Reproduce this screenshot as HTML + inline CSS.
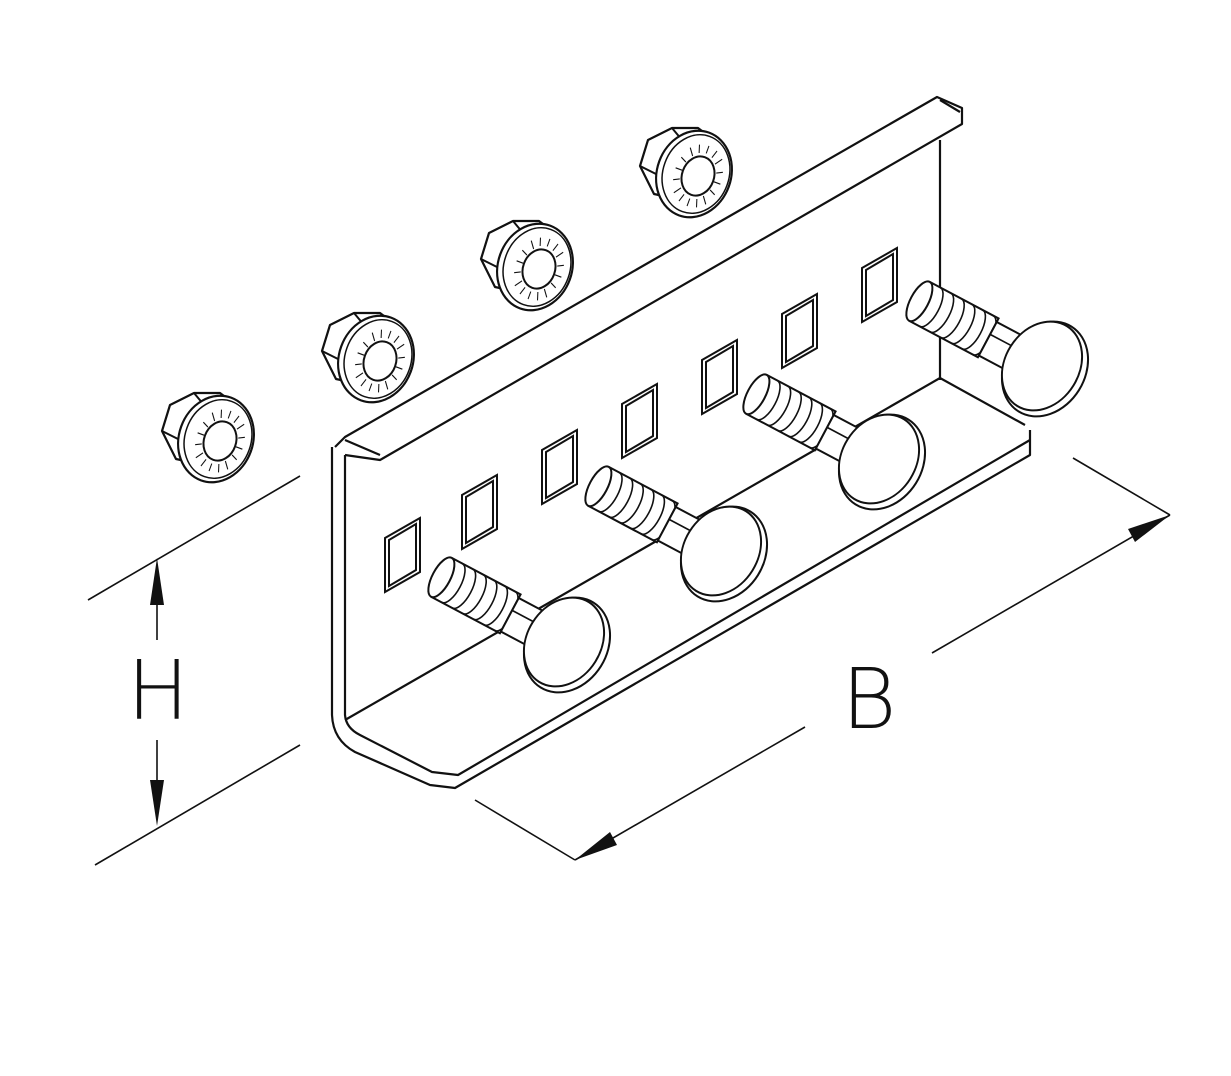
<!DOCTYPE html>
<html><head><meta charset="utf-8"><style>html,body{margin:0;padding:0;background:#fff}svg{display:block}
.lbl{font-family:"DejaVu Sans ExtraLight","DejaVu Sans","Liberation Sans",sans-serif;font-weight:200;fill:#111}</style></head>
<body>
<svg width="1231" height="1076" viewBox="0 0 1231 1076" xmlns="http://www.w3.org/2000/svg">
<defs>
<g id="nut" stroke="#111" fill="#fff">
  <path d="M-46,-2 L-38,-28 L-14,-40 L12,-40 L28,-28 L32,-6 L22,22 L-4,32 L-32,26 Z" stroke-width="2.2" stroke-linejoin="round"/>
  <path d="M-46,-2 L-30,6 M-14,-40 L-4,-28" fill="none" stroke-width="2"/>
  <ellipse cx="8" cy="6" rx="37" ry="44" transform="rotate(20 8 6)" stroke-width="2.2"/>
  <ellipse cx="10" cy="6" rx="33" ry="40" transform="rotate(20 10 6)" stroke-width="1.5" fill="none"/>
  <ellipse cx="12" cy="8" rx="16" ry="20" transform="rotate(20 12 8)" stroke-width="2"/>
  <g stroke-width="1.2" transform="translate(12 8) rotate(20) scale(0.85 1)">
    <line x1="0" y1="-24" x2="0" y2="-32"/><line x1="0" y1="24" x2="0" y2="32"/>
    <line x1="-20" y1="0" x2="-28" y2="0"/><line x1="20" y1="0" x2="28" y2="0"/>
    <line x1="14" y1="17" x2="20" y2="24"/><line x1="-14" y1="17" x2="-20" y2="24"/>
    <line x1="14" y1="-17" x2="20" y2="-24"/><line x1="-14" y1="-17" x2="-20" y2="-24"/>
    <line x1="8" y1="-22" x2="11" y2="-30"/><line x1="-8" y1="22" x2="-11" y2="30"/>
    <line x1="19" y1="9" x2="26" y2="12"/><line x1="-19" y1="-9" x2="-26" y2="-12"/>
    <line x1="-8" y1="-22" x2="-11" y2="-30"/><line x1="8" y1="22" x2="11" y2="30"/>
    <line x1="19" y1="-9" x2="26" y2="-12"/><line x1="-19" y1="9" x2="-26" y2="12"/>
  </g>
</g>
<g id="bolt" stroke="#111" fill="#fff" stroke-width="2">
  <g transform="rotate(28)">
    <path d="M-140,-22 L-62,-22 L-62,22 L-140,22" />
    <ellipse cx="-140" cy="0" rx="9" ry="22"/>
    <path d="M-128,-22 a9,22 0 0 1 0,44 M-116,-22 a9,22 0 0 1 0,44 M-104,-22 a9,22 0 0 1 0,44 M-92,-22 a9,22 0 0 1 0,44 M-80,-22 a9,22 0 0 1 0,44 M-68,-22 a9,22 0 0 1 0,44" fill="none" stroke-width="1.6"/>
    <path d="M-62,-18 L-30,-18 L-30,20 L-62,20 Z"/>
    <line x1="-62" y1="-4" x2="-30" y2="-4" stroke-width="1.6"/>
  </g>
  <ellipse cx="2" cy="2" rx="40" ry="50" transform="rotate(32 2 2)"/>
  <ellipse cx="-1" cy="-1" rx="37" ry="47" transform="rotate(32 -1 -1)"/>
</g>
</defs>
<g fill="none" stroke="#111" stroke-width="2.2" stroke-linejoin="round">
  <path d="M335,447 L345,437 L937,97 L962,108 L962,124 L380,460 L345,455"/>
  <line x1="345" y1="440" x2="380" y2="455"/>
  <line x1="940" y1="100" x2="960" y2="112"/>
  <line x1="940" y1="140" x2="940" y2="380"/>
  <path d="M332,447 L332,715 Q333,740 355,752 L430,785 L455,788 L1030,455 L1030,430"/>
  <path d="M345,455 L345,715 Q346,728 360,735 L432,772 L458,775 L1030,440"/>
  <line x1="345" y1="720" x2="940" y2="378"/>
  <line x1="940" y1="378" x2="1025" y2="425"/>
</g>
<g fill="#fff" stroke="#111" stroke-width="2">
  <g transform="translate(385,530)"><path d="M0,8 L35,-12 L35,42 L0,62 Z"/><path d="M4,10 L31,-6 L31,40 L4,56 Z"/></g>
  <g transform="translate(462,487)"><path d="M0,8 L35,-12 L35,42 L0,62 Z"/><path d="M4,10 L31,-6 L31,40 L4,56 Z"/></g>
  <g transform="translate(542,442)"><path d="M0,8 L35,-12 L35,42 L0,62 Z"/><path d="M4,10 L31,-6 L31,40 L4,56 Z"/></g>
  <g transform="translate(622,396)"><path d="M0,8 L35,-12 L35,42 L0,62 Z"/><path d="M4,10 L31,-6 L31,40 L4,56 Z"/></g>
  <g transform="translate(702,352)"><path d="M0,8 L35,-12 L35,42 L0,62 Z"/><path d="M4,10 L31,-6 L31,40 L4,56 Z"/></g>
  <g transform="translate(782,306)"><path d="M0,8 L35,-12 L35,42 L0,62 Z"/><path d="M4,10 L31,-6 L31,40 L4,56 Z"/></g>
  <g transform="translate(862,260)"><path d="M0,8 L35,-12 L35,42 L0,62 Z"/><path d="M4,10 L31,-6 L31,40 L4,56 Z"/></g>
</g>
<use href="#bolt" transform="translate(565,643)"/>
<use href="#bolt" transform="translate(722,552)"/>
<use href="#bolt" transform="translate(880,460)"/>
<use href="#bolt" transform="translate(1043,367)"/>
<use href="#nut" transform="translate(208,433)"/>
<use href="#nut" transform="translate(368,353)"/>
<use href="#nut" transform="translate(527,261)"/>
<use href="#nut" transform="translate(686,168)"/>
<g stroke="#111" stroke-width="1.6" fill="none">
  <line x1="88" y1="600" x2="300" y2="476"/>
  <line x1="95" y1="865" x2="300" y2="745"/>
  <line x1="157" y1="600" x2="157" y2="640"/>
  <line x1="157" y1="740" x2="157" y2="785"/>
  <line x1="475" y1="800" x2="575" y2="860"/>
  <line x1="1073" y1="458" x2="1170" y2="515"/>
  <line x1="575" y1="860" x2="805" y2="727"/>
  <line x1="932" y1="653" x2="1170" y2="515"/>
</g>
<g fill="#111">
  <path d="M157,558 L150,605 L164,605 Z"/>
  <path d="M157,826 L150,780 L164,780 Z"/>
  <path d="M575,860 L610,832 L617,845 Z"/>
  <path d="M1170,515 L1128,529 L1135,542 Z"/>
</g>
<text x="158" y="719" text-anchor="middle" class="lbl" font-size="82">H</text>
<text x="869" y="728" text-anchor="middle" class="lbl" font-size="84">B</text>
</svg>
</body></html>
